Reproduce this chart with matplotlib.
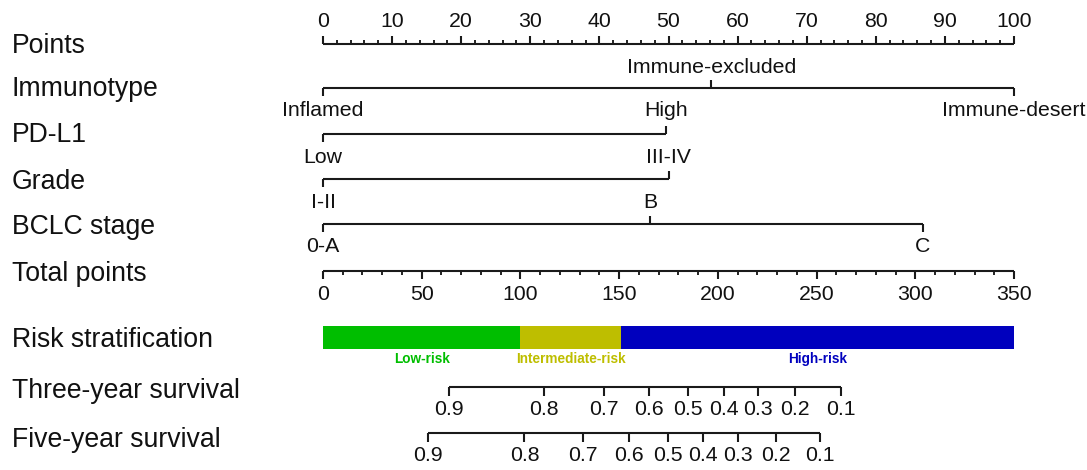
import numpy as np
import matplotlib
matplotlib.use("Agg")
import matplotlib.pyplot as plt

plt.rcParams['font.family'] = ['Liberation Sans', 'DejaVu Sans']

# ---------------- data ----------------
points_major = list(range(0, 101, 10))
points_minor = list(range(0, 101, 2))

immunotype_labels = ['Inflamed', 'Immune-excluded', 'Immune-desert']
immunotype_points = [0, 56.2, 100]

pdl1_labels = ['Low', 'High']
pdl1_points = [0, 49.7]

grade_labels = ['I-II', 'III-IV']
grade_points = [0, 50.0]

bclc_labels = ['0-A', 'B', 'C']
bclc_points = [0, 47.3, 86.8]

total_major = list(range(0, 351, 50))
total_minor = list(range(0, 351, 10))
total_max = 350

risk_names = ['Low-risk', 'Intermediate-risk', 'High-risk']
risk_bounds = [0, 100, 151, 350]
risk_colors = ['#00BE00', '#BEBE00', '#0000BE']

surv_labels = ['0.9', '0.8', '0.7', '0.6', '0.5', '0.4', '0.3', '0.2', '0.1']
three_year_total = [63.6, 111.9, 142.2, 165.0, 184.8, 203.1, 220.5, 239.1, 262.2]
five_year_total = [53.4, 102.0, 131.7, 155.2, 174.8, 192.6, 210.4, 229.3, 251.8]

row_names = ['Points', 'Immunotype', 'PD-L1', 'Grade', 'BCLC stage', 'Total points',
             'Risk stratification', 'Three-year survival', 'Five-year survival']

# ---------------- layout (pixels) ----------------
W, H = 1087, 470
X0, X100 = 323, 1014           # pixel of 0 and 100 points
s = (X100 - X0) / 100.0

fig = plt.figure(figsize=(W / 100, H / 100), dpi=100)
ax = fig.add_axes([0, 0, 1, 1])
ax.set_xlim(-X0 / s, (W - X0) / s)
ax.set_ylim(H, 0)
ax.axis('off')

LC = '#1a1a1a'
LW = 1.5
TICK_FS = 15.3
ROW_FS = 19.2
TXT = '#111111'


def tp(v):
    return np.asarray(v, dtype=float) * 100.0 / total_max


# row labels (baselines)
row_baselines = [53, 96, 142, 189, 234, 281, 347, 398, 447]
for name, yb in zip(row_names, row_baselines):
    fig.text(12 / W, 1 - yb / H, name, fontsize=ROW_FS, va='baseline', ha='left', color=TXT)

# Points axis
y_pts = 43.5
ax.hlines(y_pts, 0, 100, color=LC, lw=LW)
ax.vlines(points_minor, y_pts - 4, y_pts, color=LC, lw=LW * 0.9)
ax.vlines(points_major, y_pts - 8, y_pts, color=LC, lw=LW)
for v in points_major:
    ax.text(v, 27, str(v), fontsize=TICK_FS, ha='center', va='baseline', color=TXT)


# categorical rows
def cat_row(y, pts, labels, up_base, down_base, tick=8):
    ax.hlines(y, min(pts), max(pts), color=LC, lw=LW)
    for i, (p, lab) in enumerate(zip(pts, labels)):
        if i % 2 == 0:
            ax.vlines(p, y, y + tick, color=LC, lw=LW)
            ax.text(p, down_base, lab, fontsize=TICK_FS, ha='center', va='baseline', color=TXT)
        else:
            ax.vlines(p, y - tick, y, color=LC, lw=LW)
            ax.text(p, up_base, lab, fontsize=TICK_FS, ha='center', va='baseline', color=TXT)


cat_row(88.3, immunotype_points, immunotype_labels, 73, 116.5)
cat_row(134, pdl1_points, pdl1_labels, 116, 163)
cat_row(179.3, grade_points, grade_labels, 163, 208)
cat_row(224.3, bclc_points, bclc_labels, 208, 252)

# Total points axis
y_tot = 270.7
ax.hlines(y_tot, 0, tp(total_max), color=LC, lw=LW)
ax.vlines(tp(total_minor), y_tot, y_tot + 4.5, color=LC, lw=LW * 0.9)
ax.vlines(tp(total_major), y_tot, y_tot + 8.5, color=LC, lw=LW)
for v in total_major:
    ax.text(tp(v), 300, str(v), fontsize=TICK_FS, ha='center', va='baseline', color=TXT)

# Risk stratification bar
bar_top, bar_bot = 326, 349
for name, a, b, c in zip(risk_names, risk_bounds[:-1], risk_bounds[1:], risk_colors):
    ax.fill_between([tp(a), tp(b)], bar_top, bar_bot, color=c, lw=0)
    ax.text((tp(a) + tp(b)) / 2, 363, name, fontsize=9.8, fontweight='bold',
            color=c, ha='center', va='baseline')


# survival axes
def surv_row(y, totals, labels, base, tick):
    t = tp(totals)
    ax.hlines(y, t.min(), t.max(), color=LC, lw=LW)
    ax.vlines(t, y, y + tick, color=LC, lw=LW)
    for x, lab in zip(t, labels):
        ax.text(x, base, lab, fontsize=TICK_FS, ha='center', va='baseline', color=TXT)


surv_row(387.3, three_year_total, surv_labels, 415, 9)
surv_row(433.3, five_year_total, surv_labels, 461, 8.5)

fig.savefig('out.png', dpi=100, facecolor='white')
